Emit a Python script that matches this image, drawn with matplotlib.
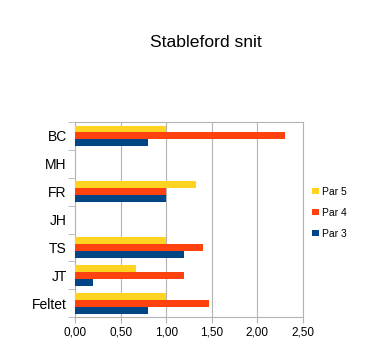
import matplotlib.pyplot as plt
import numpy as np

plt.rcParams['font.family'] = ['Liberation Sans', 'DejaVu Sans']

categories = ['BC', 'MH', 'FR', 'JH', 'TS', 'JT', 'Feltet']
par5 = [1.00, 0, 1.33, 0, 1.00, 0.67, 1.00]
par4 = [2.30, 0, 1.00, 0, 1.40, 1.20, 1.47]
par3 = [0.80, 0, 1.00, 0, 1.20, 0.20, 0.80]
xticks = [0, 0.5, 1.0, 1.5, 2.0, 2.5]
xticklabels = ['0,00', '0,50', '1,00', '1,50', '2,00', '2,50']

fig = plt.figure(figsize=(3.81, 3.6), dpi=100)
ax = fig.add_axes([0.197, 0.119, 0.598, 0.542])

n = len(categories)
y = np.arange(n)[::-1]
h = 0.25
ax.barh(y + h, par5, height=h, color='#FFD320', label='Par 5', zorder=3)
ax.barh(y, par4, height=h, color='#FF420E', label='Par 4', zorder=3)
ax.barh(y - h, par3, height=h, color='#004586', label='Par 3', zorder=3)

ax.set_xlim(0, 2.5)
ax.set_ylim(-0.5, n - 0.5)
ax.set_xticks(xticks)
ax.set_xticklabels(xticklabels, fontsize=8.5)
ax.set_yticks(y)
ax.set_yticklabels(categories, fontsize=10)
ax.set_yticks(np.arange(n + 1) - 0.5, minor=True)
ax.tick_params(axis='y', which='major', length=0, pad=6)
ax.tick_params(axis='y', which='minor', length=5, color='#b3b3b3')
ax.tick_params(axis='x', length=4, color='#b3b3b3', pad=3)
ax.grid(axis='x', color='#b3b3b3', linewidth=0.8, zorder=0)
for s in ax.spines.values():
    s.set_color('#b3b3b3')
    s.set_linewidth(0.8)

fig.text(0.54, 0.883, 'Stableford snit', ha='center', va='center', fontsize=12.6)
ax.legend(loc='center left', bbox_to_anchor=(1.0, 0.535), frameon=False,
          fontsize=7.5, handlelength=0.6, handleheight=0.6, handletextpad=0.3,
          labelspacing=1.05)

plt.savefig('out.png', dpi=100)
